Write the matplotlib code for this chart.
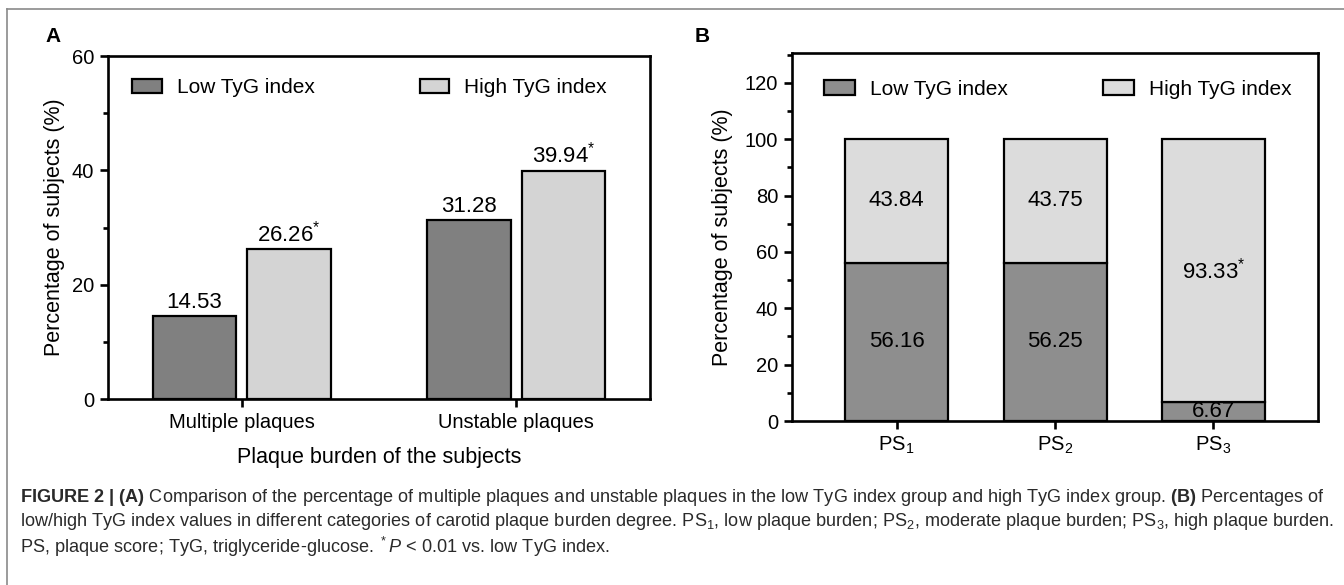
import matplotlib
matplotlib.use("Agg")
import matplotlib.pyplot as plt
from matplotlib.lines import Line2D
from matplotlib.ticker import MultipleLocator

# ---------- data ----------
groups_a = ["Multiple plaques", "Unstable plaques"]
low_a = [14.53, 31.28]
high_a = [26.26, 39.94]
star_a = [True, True]

groups_b = ["PS$_1$", "PS$_2$", "PS$_3$"]
low_b = [56.16, 56.25, 6.67]
high_b = [43.84, 43.75, 93.33]
star_b = [False, False, True]

series_names = ["Low TyG index", "High TyG index"]

caption_lines = [
    r"$\mathbf{FIGURE\ 2\ |\ (A)}$ Comparison of the percentage of multiple plaques and unstable plaques "
    r"in the low TyG index group and high TyG index group. $\mathbf{(B)}$ Percentages of",
    r"low/high TyG index values in different categories of carotid plaque burden degree. "
    r"PS$_1$, low plaque burden; PS$_2$, moderate plaque burden; PS$_3$, high plaque burden.",
    r"PS, plaque score; TyG, triglyceride-glucose. $^*$$\mathit{P}$ < 0.01 vs. low TyG index.",
]

plt.rcParams["font.family"] = ["Liberation Sans", "DejaVu Sans"]
plt.rcParams["mathtext.fontset"] = "custom"
plt.rcParams["mathtext.rm"] = "Liberation Sans"
plt.rcParams["mathtext.it"] = "Liberation Sans:italic"
plt.rcParams["mathtext.bf"] = "Liberation Sans:bold"

DARK_A = "#808080"
LIGHT_A = "#d4d4d4"
DARK_B = "#8e8e8e"
LIGHT_B = "#dcdcdc"
LW = 1.6
FS_TICK = 14.5
FS_VAL = 16
FS_LAB = 15.5
FS_LEG = 15


def style_axes(ax):
    for s in ax.spines.values():
        s.set_linewidth(1.9)
    ax.tick_params(axis="both", which="major", length=6, width=1.9, labelsize=FS_TICK, pad=4)
    ax.tick_params(axis="y", which="minor", length=3.5, width=1.9)
    ax.tick_params(axis="x", which="minor", length=0)


fig = plt.figure(figsize=(13.44, 5.85), dpi=100)

# ---------- Panel A ----------
ax1 = fig.add_axes([0.0804, 0.3179, 0.4033, 0.5863])
w = 0.305
off = 0.172
xa = range(len(groups_a))
ax1.bar([x - off for x in xa], low_a, width=w, color=DARK_A, edgecolor="black",
        linewidth=LW, label=series_names[0])
ax1.bar([x + off for x in xa], high_a, width=w, color=LIGHT_A, edgecolor="black",
        linewidth=LW, label=series_names[1])
for x, v in zip(xa, low_a):
    ax1.annotate(f"{v:.2f}", (x - off, v), xytext=(0, 2), textcoords="offset points",
                 ha="center", va="bottom", fontsize=FS_VAL)
for x, v, s in zip(xa, high_a, star_a):
    txt = f"{v:.2f}" + (r"$^{*}$" if s else "")
    ax1.annotate(txt, (x + off, v), xytext=(0, 2), textcoords="offset points",
                 ha="center", va="bottom", fontsize=FS_VAL)

ax1.set_xlim(-0.487, 1.487)
ax1.set_ylim(0, 60)
ax1.set_xticks(list(xa))
ax1.set_xticklabels(groups_a)
ax1.yaxis.set_major_locator(MultipleLocator(20))
ax1.yaxis.set_minor_locator(MultipleLocator(10))
style_axes(ax1)
ax1.set_ylabel("Percentage of subjects (%)", fontsize=FS_LAB)
ax1.yaxis.set_label_coords(-0.079, 0.5)
ax1.set_xlabel("Plaque burden of the subjects", fontsize=FS_LAB)
ax1.xaxis.set_label_coords(0.5, -0.17)
ax1.xaxis.label.set_va("center")
ax1.legend(loc="center left", bbox_to_anchor=(0.045, 0.907), ncol=2, frameon=False,
           fontsize=FS_LEG, handlelength=1.4, handleheight=0.7, handletextpad=0.72,
           columnspacing=5.05, borderpad=0, borderaxespad=0)

# ---------- Panel B ----------
ax2 = fig.add_axes([0.5893, 0.2803, 0.3914, 0.6291])
wb = 0.65
xb = range(len(groups_b))
ax2.bar(list(xb), low_b, width=wb, color=DARK_B, edgecolor="black", linewidth=LW,
        label=series_names[0])
ax2.bar(list(xb), high_b, width=wb, bottom=low_b, color=LIGHT_B, edgecolor="black",
        linewidth=LW, label=series_names[1])
for x, lo, hi, s in zip(xb, low_b, high_b, star_b):
    ax2.text(x, lo / 2, f"{lo:.2f}", ha="center", va="center", fontsize=FS_VAL, clip_on=True)
    txt = f"{hi:.2f}" + (r"$^{*}$" if s else "")
    ax2.text(x, lo + hi / 2, txt, ha="center", va="center", fontsize=FS_VAL)

ax2.set_xlim(-0.66, 2.66)
ax2.set_ylim(0, 130.6)
ax2.set_xticks(list(xb))
ax2.set_xticklabels(groups_b)
ax2.yaxis.set_major_locator(MultipleLocator(20))
ax2.yaxis.set_minor_locator(MultipleLocator(10))
style_axes(ax2)
ax2.set_ylabel("Percentage of subjects (%)", fontsize=FS_LAB)
ax2.yaxis.set_label_coords(-0.112, 0.5)
ax2.legend(loc="center left", bbox_to_anchor=(0.061, 0.902), ncol=2, frameon=False,
           fontsize=FS_LEG, handlelength=1.5, handleheight=0.7, handletextpad=0.72,
           columnspacing=4.55, borderpad=0, borderaxespad=0)

# panel letters
fig.text(53 / 1344, 1 - 37 / 585, "A", fontsize=15, fontweight="bold", ha="center", va="center")
fig.text(702 / 1344, 1 - 37 / 585, "B", fontsize=15, fontweight="bold", ha="center", va="center")

# outer frame (top + left rules)
fig.add_artist(Line2D([7 / 1344, 1], [1 - 9 / 585, 1 - 9 / 585], color="#8a8a8a", lw=1.2))
fig.add_artist(Line2D([7 / 1344, 7 / 1344], [0, 1 - 9 / 585], color="#8a8a8a", lw=1.2))

# caption
for i, line in enumerate(caption_lines):
    fig.text(20 / 1344, 1 - (497 + 25 * i) / 585, line, fontsize=13.1,
             color="#2a2a2a", ha="left", va="center")

fig.savefig("out.png", dpi=100)
